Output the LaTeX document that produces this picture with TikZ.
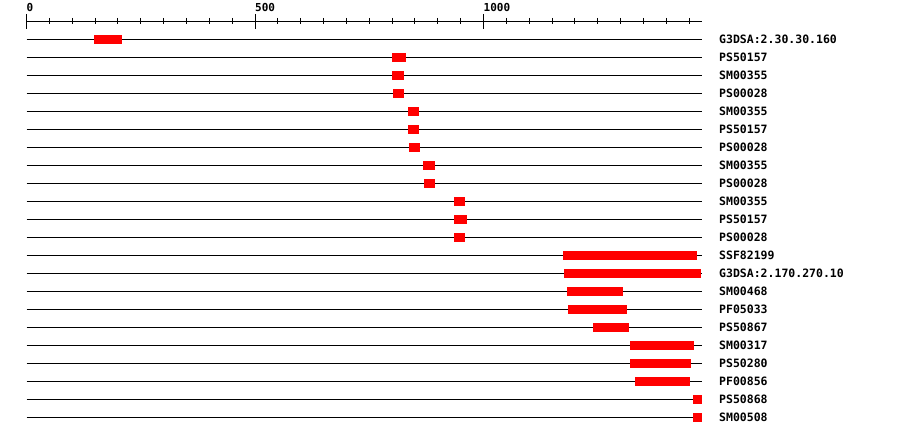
\documentclass[tikz,border=0pt]{standalone}
\usepackage{fontspec}
\setmonofont{DejaVu Sans Mono}
\usetikzlibrary{positioning}
\definecolor{hitRed}{RGB}{255,0,0}
\tikzset{
  trackline/.style={black,line width=1pt},
  hitbar/.style={fill=hitRed},
  tracklabel/.style={anchor=base west,inner sep=0pt,font=\ttfamily\bfseries\fontsize{11.5}{12}\selectfont},
  ticklabel/.style={anchor=base west,inner sep=0pt,font=\ttfamily\bfseries\fontsize{11}{12}\selectfont}
}

\begin{document}
\begin{tikzpicture}[x=1pt,y=-1pt]
  \useasboundingbox (0,0) rectangle (900,436);
  % scale bar
  \coordinate (axisL) at (26.5,21.5);
  \coordinate (axisR) at (702,21.5);
  \draw[trackline] (axisL) -- (axisR);
  \foreach \t in {0,...,29} {
    \draw[trackline] (26.5+\t*22.85,18) -- (26.5+\t*22.85,24.5);
  }
  \foreach \t/\lab in {0/0,10/500,20/1000} {
    \draw[trackline] (26.5+\t*22.85,14) -- (26.5+\t*22.85,29);
    \node[ticklabel] (tick\t) at (26.5+\t*22.85,12) {\lab};
  }
  % one row per hit: row / start / end / name
  \foreach \r/\a/\b/\lab in {
      0/94/121.7/{G3DSA:2.30.30.160},
      1/392/405.7/PS50157,
      2/392/403.7/SM00355,
      3/393/403.7/PS00028,
      4/408/418.7/SM00355,
      5/408/418.7/PS50157,
      6/409/419.7/PS00028,
      7/423/434.7/SM00355,
      8/424/434.7/PS00028,
      9/454/464.7/SM00355,
      10/454/466.7/PS50157,
      11/454/464.7/PS00028,
      12/563/696.7/SSF82199,
      13/564/700.7/{G3DSA:2.170.270.10},
      14/567/622.7/SM00468,
      15/568/626.7/PF05033,
      16/593/628.7/PS50867,
      17/630/693.7/SM00317,
      18/630/690.7/PS50280,
      19/635/689.7/PF00856,
      20/693/701.7/PS50868,
      21/693/701.7/SM00508} {
    \coordinate (rowL\r) at (26.5,39.5+\r*18);
    \coordinate (rowR\r) at (702,39.5+\r*18);
    \draw[trackline] (rowL\r) -- (rowR\r);
    \fill[hitbar] (\a,35+\r*18) rectangle (\b,44+\r*18);
    \node[tracklabel] (name\r) at (719,43.5+\r*18) {\lab};
  }
\end{tikzpicture}
\end{document}
